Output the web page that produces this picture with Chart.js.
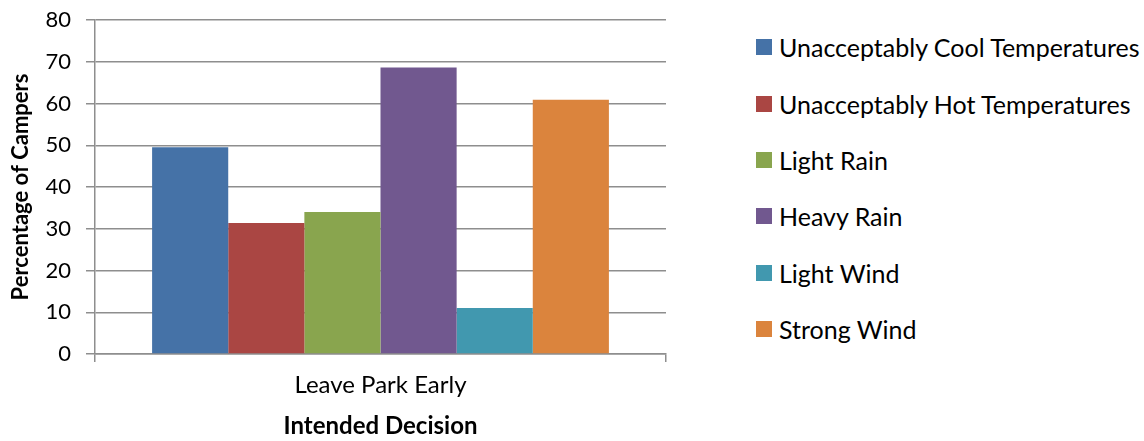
<!DOCTYPE html>
<html>
<head>
<meta charset="utf-8">
<script src="https://cdn.jsdelivr.net/npm/chart.js@4/dist/chart.umd.min.js"></script>
<style>
  html, body { margin: 0; padding: 0; background: #fff; }
  #wrap { position: relative; width: 1144px; height: 441px; }
  #chart-box { position: absolute; left: 0; top: 0; width: 700px; height: 441px; }
  #legend { position: absolute; left: 756px; top: 19px; margin: 0; padding: 0; list-style: none;
    font-family: Lato, sans-serif; font-size: 25px; color: #000; }
  #legend li { height: 56.4px; display: flex; align-items: center; white-space: nowrap; }
  #legend span.swatch { width: 16px; height: 16px; margin-right: 7px; flex: none; }
</style>
</head>
<body>
<div id="wrap">
  <div id="chart-box"><canvas id="campers"></canvas></div>
  <ul id="legend"></ul>
</div>
<script>
const categories = ["Leave Park Early"];
const seriesNames = [
  "Unacceptably Cool Temperatures",
  "Unacceptably Hot Temperatures",
  "Light Rain",
  "Heavy Rain",
  "Light Wind",
  "Strong Wind",
];
const seriesValues = [49.5, 31.4, 34.0, 68.6, 11.0, 60.9];
const seriesColors = ["#4572A7", "#AA4643", "#89A54E", "#71588F", "#4198AF", "#DB843D"];
const yTicks = [0, 10, 20, 30, 40, 50, 60, 70, 80];

const gridColor = "#8e8e8e";
const fontFamily = "Lato, sans-serif";

const datasets = seriesNames.map((name, i) => ({
  label: name,
  data: [seriesValues[i]],
  backgroundColor: seriesColors[i],
  borderWidth: 0,
}));

new Chart(document.getElementById("campers"), {
  type: "bar",
  data: { labels: categories, datasets },
  options: {
    responsive: true,
    maintainAspectRatio: false,
    animation: false,
    layout: { padding: { top: 20, right: 34, left: 0, bottom: 0 } },
    datasets: { bar: { categoryPercentage: 0.8, barPercentage: 1.0 } },
    plugins: { legend: { display: false }, tooltip: { enabled: false } },
    scales: {
      x: {
        offset: true,
        afterFit: (scale) => { scale.height = 87; },
        grid: {
          offset: true,
          drawOnChartArea: false,
          drawTicks: true,
          tickLength: 8,
          color: gridColor,
          lineWidth: 1.5,
        },
        border: { color: gridColor, width: 1.5 },
        ticks: { color: "#000", padding: 9, font: { family: fontFamily, size: 24 } },
        title: {
          display: true,
          text: "Intended Decision",
          color: "#000",
          padding: { top: 0, bottom: 0 },
          font: { family: fontFamily, size: 24, weight: "bold" },
        },
      },
      y: {
        min: 0,
        max: 80,
        afterFit: (scale) => {
          // fixed axis width; the top label may sit in the layout padding
          scale.width = 95;
          scale.paddingTop = 0;
          scale.paddingBottom = 0;
        },
        afterBuildTicks: (scale) => { scale.ticks = yTicks.map((v) => ({ value: v })); },
        grid: { color: gridColor, lineWidth: 1.5, tickLength: 9 },
        border: { color: gridColor, width: 1.5 },
        ticks: { color: "#000", padding: 15, font: { family: fontFamily, size: 22 } },
        title: {
          display: true,
          text: "Percentage of Campers",
          color: "#000",
          padding: { top: 8, bottom: 0 },
          font: { family: fontFamily, size: 22, weight: "bold" },
        },
      },
    },
  },
});

// legend list built from the same series arrays
const legendEl = document.getElementById("legend");
seriesNames.forEach((name, i) => {
  const li = document.createElement("li");
  const sw = document.createElement("span");
  sw.className = "swatch";
  sw.style.background = seriesColors[i];
  li.appendChild(sw);
  li.appendChild(document.createTextNode(name));
  legendEl.appendChild(li);
});
</script>
</body>
</html>
